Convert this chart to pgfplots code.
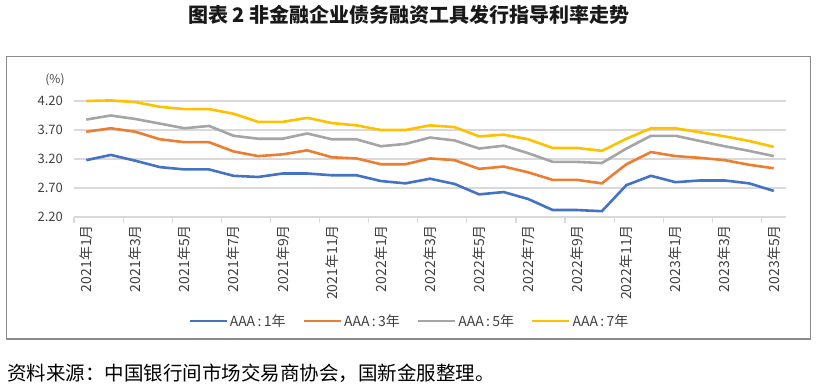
\documentclass[border=0pt]{standalone}
\usepackage{fontspec}
\setmainfont{Noto Sans CJK SC}
\usepackage{pgfplots}
\usepackage{pgfplotstable}
\pgfplotsset{compat=1.18}
\definecolor{cblue}{HTML}{4472C4}
\definecolor{corange}{HTML}{ED7D31}
\definecolor{cgray}{HTML}{A5A5A5}
\definecolor{cyellow}{HTML}{FFC000}
\definecolor{gridc}{HTML}{D9D9D9}
\definecolor{boxc}{HTML}{8C8C8C}
\definecolor{txt}{HTML}{404040}

\pgfplotstableread{
i  y1   y3   y5   y7
0  3.18 3.67 3.88 4.20
1  3.27 3.73 3.95 4.21
2  3.17 3.67 3.89 4.18
3  3.06 3.54 3.81 4.10
4  3.02 3.49 3.73 4.06
5  3.02 3.49 3.77 4.06
6  2.91 3.33 3.60 3.98
7  2.89 3.25 3.55 3.84
8  2.95 3.28 3.55 3.84
9  2.95 3.35 3.64 3.91
10 2.92 3.23 3.54 3.82
11 2.92 3.21 3.54 3.78
12 2.82 3.11 3.42 3.70
13 2.78 3.11 3.46 3.70
14 2.86 3.21 3.57 3.78
15 2.77 3.18 3.52 3.75
16 2.59 3.03 3.38 3.59
17 2.63 3.07 3.43 3.62
18 2.51 2.97 3.30 3.54
19 2.32 2.84 3.15 3.39
20 2.32 2.84 3.15 3.39
21 2.30 2.78 3.13 3.34
22 2.75 3.11 3.38 3.55
23 2.91 3.32 3.60 3.73
24 2.80 3.25 3.60 3.73
25 2.83 3.22 3.51 3.66
26 2.83 3.18 3.42 3.59
27 2.78 3.10 3.34 3.51
28 2.65 3.04 3.25 3.41
}\rates

\begin{document}
\begin{tikzpicture}[x=1pt,y=1pt]
\path[use as bounding box] (0,0) rectangle (818,388);
\node[font=\fontsize{20}{22}\selectfont\bfseries, text=black!90] at (409,373) {图表 2 非金融企业债务融资工具发行指导利率走势};
\draw[boxc, line width=1.3pt] (6.7,331.3) rectangle (810.7,49);
\node[anchor=west, font=\fontsize{19.5}{22}\selectfont, inner sep=0pt] at (7,15) {资料来源：中国银行间市场交易商协会，国新金服整理。};
\node[font=\fontsize{12}{14}\selectfont, text=txt] at (55,308) {(\%)};
\begin{axis}[
  at={(74pt,171pt)}, anchor=south west,
  scale only axis, width=712pt, height=116pt,
  xmin=-0.5, xmax=28.5, ymin=2.2, ymax=4.2,
  clip=false,
  axis lines*=left,
  x axis line style={draw=gridc, line width=1.3pt, -},
  y axis line style={draw=none},
  ymajorgrids, grid style={draw=gridc, line width=1.3pt},
  ytick={2.2,2.7,3.2,3.7,4.2},
  yticklabels={2.20,2.70,3.20,3.70,4.20},
  yticklabel style={font=\fontsize{13}{14}\selectfont, text=txt, inner sep=0pt, anchor=east},
  yticklabel shift=11pt,
  ytick style={draw=none},
  xtick={0,2,...,28},
  xticklabels={2021年1月,2021年3月,2021年5月,2021年7月,2021年9月,2021年11月,2022年1月,2022年3月,2022年5月,2022年7月,2022年9月,2022年11月,2023年1月,2023年3月,2023年5月},
  xticklabel style={font=\fontsize{14}{16}\selectfont, text=txt, rotate=90, anchor=east, inner sep=0pt},
  xticklabel shift=8pt,
  major x tick style={draw=none},
  extra x ticks={-0.5,1.5,...,27.5},
  extra x tick labels={},
  extra x tick style={tick align=outside, major tick length=6pt, major x tick style={draw=gridc, line width=1.2pt}},
  legend style={at={(0.471,-0.897)}, anchor=center, legend columns=4, draw=none, fill=none,
    font=\fontsize{14}{16}\selectfont, text=txt,
    /tikz/every even column/.append style={column sep=15pt}},
  legend image code/.code={\draw[line width=2.6pt] (0pt,0pt) -- (37pt,0pt);},
  every axis plot/.append style={line width=2.6pt, no markers},
]
\addplot[cblue] table[x=i,y=y1] {\rates};
\addlegendentry{AAA\,:\,1年}
\addplot[corange] table[x=i,y=y3] {\rates};
\addlegendentry{AAA\,:\,3年}
\addplot[cgray] table[x=i,y=y5] {\rates};
\addlegendentry{AAA\,:\,5年}
\addplot[cyellow] table[x=i,y=y7] {\rates};
\addlegendentry{AAA\,:\,7年}
\end{axis}
\end{tikzpicture}
\end{document}
